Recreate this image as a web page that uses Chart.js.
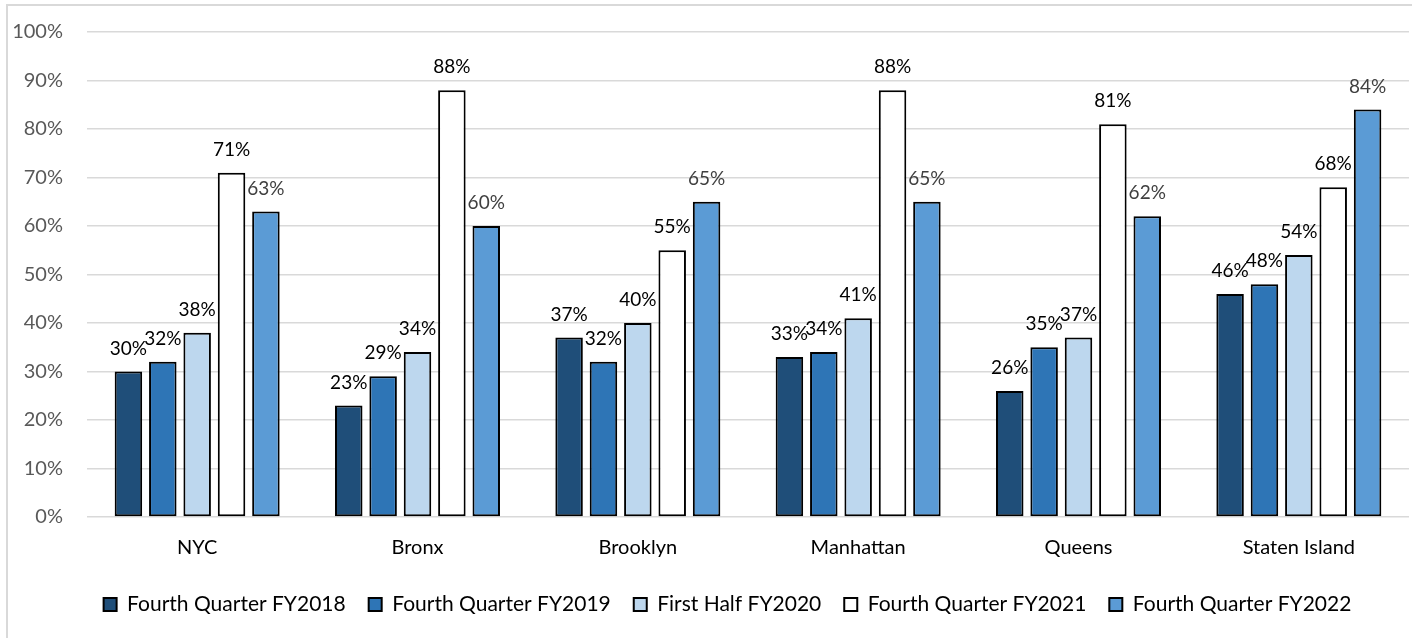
<!DOCTYPE html>
<html>
<head>
<meta charset="utf-8">
<script src="https://cdn.jsdelivr.net/npm/chart.js@4.4.1/dist/chart.umd.min.js"></script>
<style>
  html, body { margin: 0; padding: 0; background: #fff; }
  #wrap { position: relative; width: 1412px; height: 638px; }
  #frame { position: absolute; left: 6px; top: 4px; right: -10px; bottom: -10px;
           border-left: 2px solid #d9d9d9; border-top: 2px solid #d9d9d9; }
  canvas { position: absolute; left: 0; top: 0; }
</style>
</head>
<body>
<div id="wrap">
  <div id="frame"></div>
  <canvas id="boroughChart" width="1412" height="638"></canvas>
</div>
<script>
// Boroughs on the x axis
const boroughs = ["NYC", "Bronx", "Brooklyn", "Manhattan", "Queens", "Staten Island"];

// Percentages per reporting period
const fy2018Q4 = [30, 23, 37, 33, 26, 46];
const fy2019Q4 = [32, 29, 32, 34, 35, 48];
const fy2020H1 = [38, 34, 40, 41, 37, 54];
const fy2021Q4 = [71, 88, 55, 88, 81, 68];
const fy2022Q4 = [63, 60, 65, 65, 62, 84];

const yTicks = [0, 10, 20, 30, 40, 50, 60, 70, 80, 90, 100];

const FONT = "Lato, 'Open Sans', sans-serif";

// value labels above each bar
const barLabels = {
  id: "barLabels",
  afterDatasetsDraw(chart) {
    const ctx = chart.ctx;
    ctx.save();
    ctx.font = "19px " + FONT;
    ctx.textAlign = "center";
    ctx.textBaseline = "middle";
    chart.data.datasets.forEach((ds, i) => {
      const meta = chart.getDatasetMeta(i);
      ctx.fillStyle = ds.labelColor;
      meta.data.forEach((bar, j) => {
        ctx.fillText(ds.data[j] + "%", bar.x, bar.y - 23);
      });
    });
    ctx.restore();
  }
};

// fixed legend height, and legend nudged a bit right/down
const legendTweak = {
  id: "legendTweak",
  beforeInit(chart) {
    const legend = chart.legend;
    const fit = legend.fit;
    legend.fit = function () {
      fit.call(this);
      this.height = 61;
    };
    const draw = legend.draw;
    legend.draw = function () {
      this.ctx.save();
      this.ctx.translate(23, 4);
      draw.call(this);
      this.ctx.restore();
    };
  }
};

function series(label, data, color, labelColor) {
  return {
    label: label,
    data: data,
    backgroundColor: color,
    borderColor: "#000",
    borderWidth: 2,
    borderSkipped: false,
    labelColor: labelColor,
    categoryPercentage: 0.78,
    barPercentage: 0.8
  };
}

new Chart(document.getElementById("boroughChart").getContext("2d"), {
  type: "bar",
  data: {
    labels: boroughs,
    datasets: [
      series("Fourth Quarter FY2018", fy2018Q4, "#1f4e79", "#000"),
      series("Fourth Quarter FY2019", fy2019Q4, "#2e75b6", "#000"),
      series("First Half FY2020", fy2020H1, "#bdd7ee", "#000"),
      series("Fourth Quarter FY2021", fy2021Q4, "#ffffff", "#000"),
      series("Fourth Quarter FY2022", fy2022Q4, "#5b9bd5", "#404040")
    ]
  },
  options: {
    responsive: false,
    animation: false,
    layout: { padding: { top: 32, right: 3, left: 0, bottom: 10 } },
    plugins: {
      legend: {
        position: "bottom",
        labels: {
          color: "#000",
          font: { family: FONT, size: 21 },
          boxWidth: 13,
          boxHeight: 13,
          padding: 23
        }
      },
      tooltip: { enabled: false }
    },
    scales: {
      x: {
        afterFit(scale) { scale.height = 50; },
        grid: { display: false },
        border: { display: false },
        ticks: { color: "#000", font: { family: FONT, size: 20 }, padding: 11 }
      },
      y: {
        min: 0,
        max: 100,
        afterFit(scale) {
          scale.width = 87;
          // tick padding shouldn't push the plot top down
          scale.paddingTop = 0;
          scale.paddingBottom = 0;
        },
        afterBuildTicks(scale) { scale.ticks = yTicks.map(v => ({ value: v })); },
        grid: { color: "#d9d9d9", lineWidth: 1.5, drawTicks: false },
        border: { display: false },
        ticks: {
          color: "#595959",
          font: { family: FONT, size: 20 },
          padding: 24,
          callback: v => v + "%"
        }
      }
    }
  },
  plugins: [barLabels, legendTweak]
});
</script>
</body>
</html>
